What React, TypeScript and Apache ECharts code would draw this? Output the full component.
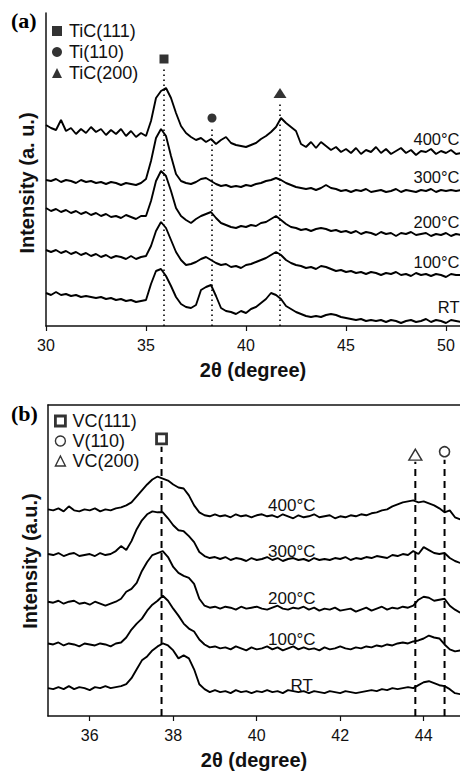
import React, { useEffect, useRef } from "react";
import * as echarts from "echarts";

// ---------- Panel (a): Ti / TiC, 2θ scan 30–50.75°, step 0.25° ----------
const scanA = Array.from({ length: 84 }, (_, i) => 30 + i * 0.25);
const aRT = [33,31,34,31,32,30,31,29,30,29,28,29,27,28,26,27,25,26,24,25,26,42,55,57,50,40,29,22,19,18,21,36,39,41,30,18,15,14,12,15,13,17,19,23,27,33,31,27,20,17,14,12,10,9,10,9,11,12,11,9,8,7,6,7,5,6,5,6,4,6,5,3,5,6,4,5,7,4,6,5,3,6,5,4];
const a100 = [76,74,76,73,75,72,74,71,73,70,72,69,71,68,70,69,67,70,67,69,70,80,95,104,98,86,74,66,61,62,64,67,69,66,63,61,62,59,60,58,61,62,64,66,68,71,74,71,66,63,61,60,58,59,57,60,59,57,55,56,54,55,53,54,52,54,53,51,53,52,54,51,52,50,53,51,52,50,52,51,49,52,51,51];
const a200 = [118,115,117,114,116,113,115,112,114,111,113,110,112,109,110,108,111,109,107,110,110,125,145,155,150,135,118,110,106,103,107,110,112,114,108,103,101,99,98,100,99,101,100,103,104,107,110,106,102,99,98,96,97,95,97,98,97,95,96,94,95,93,95,92,94,93,91,94,92,93,90,93,92,94,91,92,93,90,92,91,93,90,92,91];
const a300 = [146,145,147,144,146,145,143,146,144,145,143,144,142,144,143,141,143,142,141,143,147,165,188,197,190,170,152,145,143,142,144,147,148,145,142,140,141,139,140,139,141,140,142,143,145,146,148,146,143,141,139,138,137,138,136,138,141,138,137,135,136,134,136,135,137,134,135,136,134,135,137,134,136,135,134,136,135,137,134,136,135,136,135,136];
const a400 = [201,198,196,206,195,198,192,197,193,199,194,197,191,196,192,197,190,195,189,193,190,205,228,235,238,228,213,200,193,189,186,188,184,187,182,186,189,183,181,180,179,181,183,187,190,194,199,208,203,199,195,182,179,184,178,184,180,176,179,174,177,173,178,172,176,174,179,173,177,172,175,178,173,176,171,175,174,177,172,175,173,176,172,173];
const seriesA = [aRT, a100, a200, a300, a400];
const tempNames = ["RT", "100°C", "200°C", "300°C", "400°C"];
const labelA_x = 50.7;
const labelA_y = [19, 64, 104, 149, 187];
const ticksA = [30, 35, 40, 45, 50];

const peakA_names = ["TiC(111)", "Ti(110)", "TiC(200)"];
const peakA_x = [35.9, 38.3, 41.7];
const peakA_y = [267, 208, 233];
const peakA_lineTop = [260, 200, 225];

// ---------- Panel (b): V / VC, 2θ scan 35–44.875°, step 0.125° ----------
const scanB = Array.from({ length: 80 }, (_, i) => 35 + i * 0.125);
const bRT = [28,27,29,27,30,27,29,28,26,29,28,30,28,29,30,32,38,47,56,60,66,70,73,71,66,58,61,58,47,32,27,24,26,24,25,23,26,24,25,23,25,24,26,24,25,23,26,25,24,25,23,25,24,23,25,24,23,25,24,23,24,25,26,25,27,26,28,27,28,29,28,31,34,35,33,31,30,27,23,22];
const b100 = [73,72,74,71,73,72,70,73,72,71,73,72,70,73,74,79,87,93,98,106,112,116,121,116,108,101,93,88,85,77,72,69,70,68,69,67,70,68,66,69,67,68,70,67,69,66,68,70,67,69,67,68,66,69,67,68,70,68,67,69,68,70,69,71,70,72,71,73,74,73,75,76,78,81,79,78,72,67,65,66];
const b200 = [115,114,116,113,115,116,113,114,112,115,113,111,113,115,118,125,128,134,146,155,162,164,166,160,150,144,141,139,133,118,111,109,110,108,110,109,107,110,108,109,110,108,107,109,111,108,107,109,108,110,107,109,106,108,107,109,106,107,108,105,107,109,106,108,110,107,109,108,110,109,111,117,120,119,116,117,118,111,107,104];
const b300 = [163,162,164,161,163,164,161,162,163,161,164,162,163,166,171,167,176,188,197,203,206,205,205,199,192,187,186,181,175,165,161,159,160,158,160,157,159,158,156,159,157,158,160,157,159,156,158,159,157,158,156,159,157,158,157,159,158,160,157,159,158,160,159,161,160,159,162,161,163,162,166,163,170,167,164,163,164,159,156,154];
const b400 = [208,207,209,206,211,207,206,208,207,209,206,208,207,209,210,212,215,221,227,233,238,241,239,237,233,230,229,222,212,205,202,201,203,201,202,200,203,201,202,200,202,203,201,202,200,203,201,199,202,200,201,203,200,201,202,199,201,200,202,201,203,202,204,205,207,208,211,213,215,216,217,215,216,214,212,209,205,207,200,198];
const seriesB = [bRT, b100, b200, b300, b400];
const labelB_x = [41.08, 40.84, 40.84, 40.84, 40.84];
const labelB_y = [31, 77, 118, 166, 212];
const ticksB = [36, 38, 40, 42, 44];

const peakB_names = ["VC(111)", "V(110)", "VC(200)"];
const peakB_x = [37.72, 44.5, 43.8];
const peakB_y = [279, 266, 263];
const peakB_lineTop = [271, 258, 256];

const SANS = "'Liberation Sans', Arial, sans-serif";
const SERIF = "'Liberation Serif', 'Times New Roman', serif";

function xAxisCfg(grid: number, min: number, max: number, ticks: number[]) {
  return {
    gridIndex: grid,
    type: "value",
    min,
    max,
    axisLine: { show: true, onZero: false, lineStyle: { color: "#111", width: 1.5 } },
    axisTick: { show: true, inside: false, length: 5, customValues: ticks, lineStyle: { color: "#111", width: 1.2 } },
    axisLabel: { show: true, customValues: ticks, fontSize: 16, color: "#111", margin: 11, fontFamily: SANS },
    splitLine: { show: false },
    name: "2θ (degree)",
    nameLocation: "middle",
    nameGap: 34,
    nameTextStyle: { fontSize: 20, fontWeight: "bold", color: "#111", fontFamily: SANS },
  };
}

function yAxisCfg(grid: number) {
  return {
    gridIndex: grid,
    type: "value",
    min: 0,
    max: 313,
    axisLine: { show: true, onZero: false, lineStyle: { color: "#111", width: 1.5 } },
    axisTick: { show: false },
    axisLabel: { show: false },
    splitLine: { show: false },
  };
}

function yTitle(text: string, x: number, y: number) {
  return {
    type: "text",
    x,
    y,
    rotation: Math.PI / 2,
    silent: true,
    style: {
      text,
      align: "center",
      verticalAlign: "middle",
      fontSize: 20,
      fontWeight: "bold",
      fontFamily: SANS,
      fill: "#111",
    },
  };
}

const tempLabelStyle = {
  show: true,
  formatter: "{b}",
  color: "#111",
  fontFamily: SANS,
  textBorderWidth: 0,
  textShadowBlur: 0,
  opacity: 1,
};

export default function App() {
  const ref = useRef<HTMLDivElement>(null);
  useEffect(() => {
    if (!ref.current) return;
    const chart = echarts.init(ref.current, undefined, { renderer: "svg" });
    const series: any[] = [];

    seriesA.forEach((vals, k) => {
      series.push({
        type: "line", xAxisIndex: 0, yAxisIndex: 0, name: "a-" + tempNames[k],
        data: vals.map((v, i) => [scanA[i], v]),
        symbol: "none", lineStyle: { color: "#000", width: 1.9 }, silent: true, z: 3,
      });
    });
    peakA_x.forEach((x, k) => {
      series.push({
        type: "line", xAxisIndex: 0, yAxisIndex: 0,
        data: [[x, 0], [x, peakA_lineTop[k]]],
        symbol: "none", lineStyle: { color: "#000", width: 1.6, type: [1.6, 3.4] }, silent: true, z: 2,
      });
    });
    const symA = ["rect", "circle", "triangle"];
    const sizeA: any[] = [9, 9, [13, 10]];
    peakA_names.forEach((n, k) => {
      series.push({
        type: "scatter", xAxisIndex: 0, yAxisIndex: 0, name: n,
        data: [[peakA_x[k], peakA_y[k]]],
        symbol: symA[k], symbolSize: sizeA[k],
        itemStyle: { color: "#000" }, silent: true, z: 4,
      });
    });
    series.push({
      type: "scatter", xAxisIndex: 0, yAxisIndex: 0, clip: false,
      data: tempNames.map((t, k) => ({ value: [labelA_x, labelA_y[k]], name: t })),
      symbolSize: 1, itemStyle: { color: "rgba(0,0,0,0)" }, silent: true, z: 5,
      label: { ...tempLabelStyle, position: "left", distance: 0, fontSize: 16.5 },
    });

    seriesB.forEach((vals, k) => {
      series.push({
        type: "line", xAxisIndex: 1, yAxisIndex: 1, name: "b-" + tempNames[k],
        data: vals.map((v, i) => [scanB[i], v]),
        symbol: "none", lineStyle: { color: "#000", width: 1.9 }, silent: true, z: 3,
      });
    });
    peakB_x.forEach((x, k) => {
      series.push({
        type: "line", xAxisIndex: 1, yAxisIndex: 1,
        data: [[x, 0], [x, peakB_lineTop[k]]],
        symbol: "none", lineStyle: { color: "#000", width: 2, type: [7, 5] }, silent: true, z: 2,
      });
    });
    const symB = ["rect", "circle", "triangle"];
    const sizeB: any[] = [10, 10, [13, 11]];
    const bwB = [2.8, 1.6, 1.4];
    peakB_names.forEach((n, k) => {
      series.push({
        type: "scatter", xAxisIndex: 1, yAxisIndex: 1, name: n,
        data: [[peakB_x[k], peakB_y[k]]],
        symbol: symB[k], symbolSize: sizeB[k],
        itemStyle: { color: "#fff", borderColor: "#000", borderWidth: bwB[k] }, silent: true, z: 4,
      });
    });
    series.push({
      type: "scatter", xAxisIndex: 1, yAxisIndex: 1,
      data: tempNames.map((t, k) => ({ value: [labelB_x[k], labelB_y[k]], name: t })),
      symbolSize: 1, itemStyle: { color: "rgba(0,0,0,0)" }, silent: true, z: 5,
      label: { ...tempLabelStyle, position: "inside", fontSize: 17 },
    });

    const legendText = { fontSize: 18, color: "#111", fontFamily: SANS, padding: [0, 0, 0, 2] };
    chart.setOption({
      animation: false,
      backgroundColor: "#fff",
      title: [
        { text: "(a)", left: 11, top: 9, padding: 0, textStyle: { fontFamily: SERIF, fontWeight: "bold", fontSize: 22, color: "#000" } },
        { text: "(b)", left: 11, top: 402, padding: 0, textStyle: { fontFamily: SERIF, fontWeight: "bold", fontSize: 22, color: "#000" } },
      ],
      legend: [
        {
          orient: "vertical", left: 52, top: 22, padding: 0, itemGap: 3, itemWidth: 10, itemHeight: 10,
          textStyle: legendText, selectedMode: false,
          data: [
            { name: "TiC(111)", icon: "rect", itemStyle: { color: "#000" } },
            { name: "Ti(110)", icon: "circle", itemStyle: { color: "#000" } },
            { name: "TiC(200)", icon: "triangle", itemStyle: { color: "#000" } },
          ],
        },
        {
          orient: "vertical", left: 54, top: 412, padding: 0, itemGap: 2, itemWidth: 10, itemHeight: 10,
          textStyle: legendText, selectedMode: false,
          data: [
            { name: "VC(111)", icon: "rect", itemStyle: { color: "#fff", borderColor: "#000", borderWidth: 2.8 } },
            { name: "V(110)", icon: "circle", itemStyle: { color: "#fff", borderColor: "#000", borderWidth: 1.4 } },
            { name: "VC(200)", icon: "triangle", itemStyle: { color: "#fff", borderColor: "#000", borderWidth: 1.4 } },
          ],
        },
      ],
      grid: [
        { left: 46, top: 13, width: 414, height: 313 },
        { left: 48, top: 405, width: 412, height: 313 },
      ],
      xAxis: [
        xAxisCfg(0, 30, 50.7, ticksA),
        xAxisCfg(1, 35, 44.87, ticksB),
        {
          gridIndex: 1, type: "value", position: "top", min: 35, max: 44.87,
          axisLine: { show: true, onZero: false, lineStyle: { color: "#111", width: 1.5 } },
          axisTick: { show: false }, axisLabel: { show: false }, splitLine: { show: false },
        },
      ],
      yAxis: [yAxisCfg(0), yAxisCfg(1)],
      graphic: [
        yTitle("Intensity (a. u.)", 27, 183),
        yTitle("Intensity (a.u.)", 30, 561),
      ],
      series,
    });
    return () => chart.dispose();
  }, []);
  return <div ref={ref} style={{ position: "absolute", left: 0, top: 0, width: 460, height: 771 }} />;
}
